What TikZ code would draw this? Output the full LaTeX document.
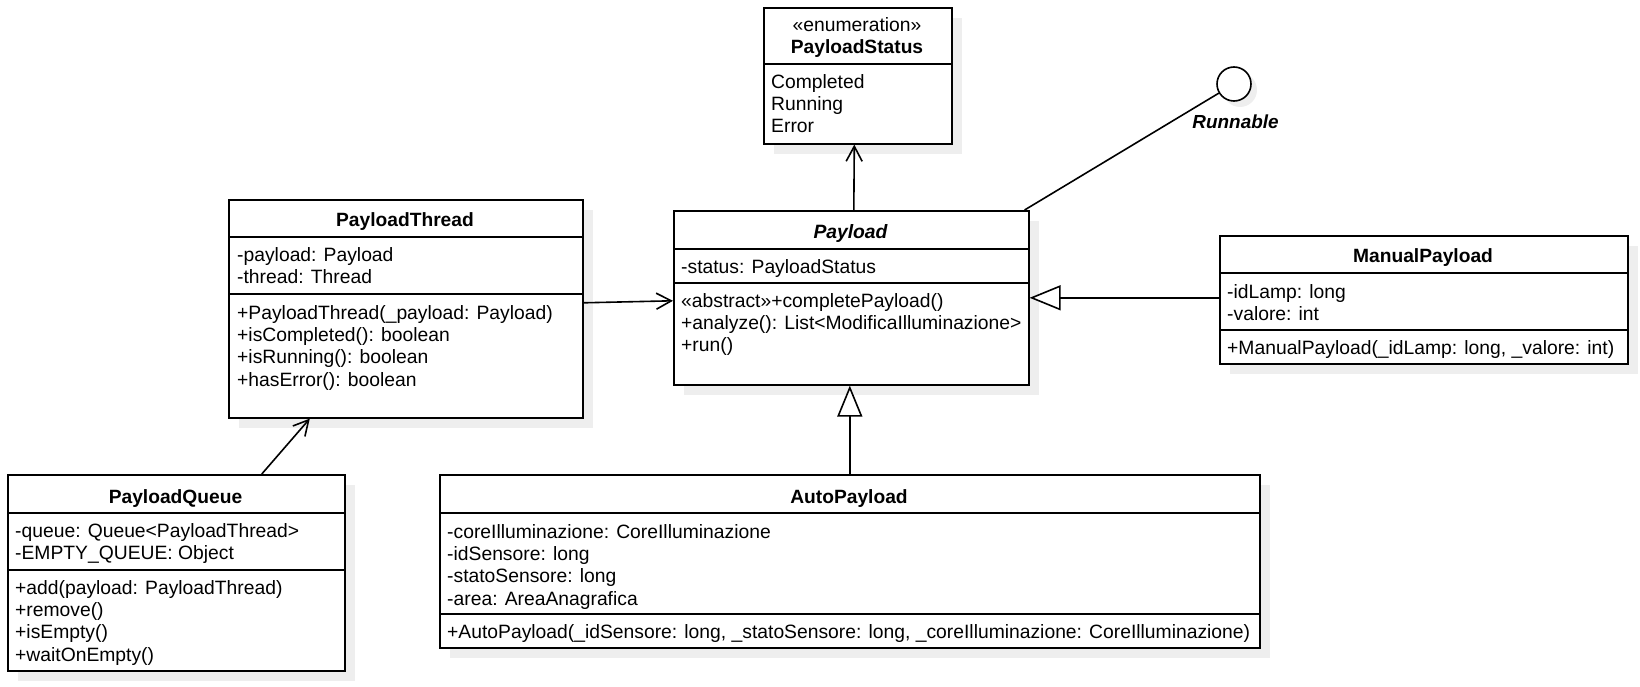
\documentclass[tikz,border=0pt]{standalone}
\usepackage{fontspec}
\setmainfont{Liberation Sans}
\usetikzlibrary{arrows.meta,shadows,calc}
\definecolor{shadowc}{HTML}{EEEEEE}
\newcommand{\bodyf}{\fontsize{19.3}{22.3}\selectfont}
\newcommand{\titlef}{\fontsize{19.2}{22}\selectfont\bfseries}
\newcommand{\ititlef}{\fontsize{19.3}{22}\selectfont\bfseries\itshape}
\begin{document}
\begin{tikzpicture}[x=1pt,y=-1pt,
  umlbox/.style={draw=black, line width=1.6pt, fill=white, anchor=north west, inner sep=0pt,
    drop shadow={shadow xshift=10pt, shadow yshift=-10pt, fill=shadowc, opacity=1}},
  divl/.style={line width=1.6pt},
  txt/.style={anchor=north west, inner sep=0pt, align=left, font=\bodyf},
  ttl/.style={anchor=base, inner sep=0pt, font=\titlef},
  ittl/.style={anchor=base, inner sep=0pt, font=\ititlef},
  conn/.style={line width=1.6pt},
  assoc/.style={conn, -{Straight Barb[length=15pt, width=16pt, line width=1.6pt]}},
  gen/.style={conn, -{Triangle[length=31pt, width=25pt, open, fill=white, line width=1.6pt]}}
]
\useasboundingbox (0,0) rectangle (1640,687);

% ---------- PayloadStatus ----------
\node[umlbox, minimum width=188, minimum height=136] (ps) at (763,7) {};
\draw[divl] ($(ps.north west)+(0,57)$) -- ($(ps.north east)+(0,57)$);
\node[anchor=base, inner sep=0pt, font=\bodyf] (ps-st) at (857,32) {«enumeration»};
\node[ttl] (ps-t) at (857,54) {PayloadStatus};
\node[txt] (ps-a) at (771,72.4) {\strut Completed\\Running\\Error};

% ---------- PayloadThread ----------
\node[umlbox, minimum width=354, minimum height=218] (pt) at (228,199) {};
\draw[divl] ($(pt.north west)+(0,38)$) -- ($(pt.north east)+(0,38)$);
\draw[divl] ($(pt.north west)+(0,95)$) -- ($(pt.north east)+(0,95)$);
\node[ttl] (pt-t) at (405,226) {PayloadThread};
\node[txt] (pt-a) at (237,245.4) {\strut -payload: Payload\\-thread: Thread};
\node[txt] (pt-m) at (237,303.4) {\strut +PayloadThread(\_payload: Payload)\\+isCompleted(): boolean\\+isRunning(): boolean\\+hasError(): boolean};

% ---------- Payload ----------
\node[umlbox, minimum width=355, minimum height=174] (p) at (673,210) {};
\draw[divl] ($(p.north west)+(0,39)$) -- ($(p.north east)+(0,39)$);
\draw[divl] ($(p.north west)+(0,73)$) -- ($(p.north east)+(0,73)$);
\node[ittl] (p-t) at (850.5,238) {Payload};
\node[txt] (p-a) at (681,257.4) {\strut -status: PayloadStatus};
\node[txt] (p-m) at (681,291.4) {\strut «abstract»+completePayload()\\+analyze(): List<ModificaIlluminazione>\\+run()};

% ---------- ManualPayload ----------
\node[umlbox, minimum width=408, minimum height=128] (mp) at (1219,235) {};
\draw[divl] ($(mp.north west)+(0,38)$) -- ($(mp.north east)+(0,38)$);
\draw[divl] ($(mp.north west)+(0,95)$) -- ($(mp.north east)+(0,95)$);
\node[ttl] (mp-t) at (1423,262) {ManualPayload};
\node[txt] (mp-a) at (1227,282.4) {\strut -idLamp: long\\-valore: int};
\node[txt] (mp-m) at (1227,338.4) {\strut +ManualPayload(\_idLamp: long, \_valore: int)};

% ---------- PayloadQueue ----------
\node[umlbox, minimum width=337, minimum height=196] (pq) at (7,474) {};
\draw[divl] ($(pq.north west)+(0,39)$) -- ($(pq.north east)+(0,39)$);
\draw[divl] ($(pq.north west)+(0,96)$) -- ($(pq.north east)+(0,96)$);
\node[ttl] (pq-t) at (175.5,503) {PayloadQueue};
\node[txt] (pq-a) at (15,521.4) {\strut -queue: Queue<PayloadThread>\\-EMPTY\_QUEUE: Object};
\node[txt] (pq-m) at (15,578.4) {\strut +add(payload: PayloadThread)\\+remove()\\+isEmpty()\\+waitOnEmpty()};

% ---------- AutoPayload ----------
\node[umlbox, minimum width=820, minimum height=173] (ap) at (439,474) {};
\draw[divl] ($(ap.north west)+(0,39)$) -- ($(ap.north east)+(0,39)$);
\draw[divl] ($(ap.north west)+(0,140)$) -- ($(ap.north east)+(0,140)$);
\node[ttl] (ap-t) at (849,503) {AutoPayload};
\node[txt] (ap-a) at (447,522.4) {\strut -coreIlluminazione: CoreIlluminazione\\-idSensore: long\\-statoSensore: long\\-area: AreaAnagrafica};
\node[txt] (ap-m) at (447,622.4) {\strut +AutoPayload(\_idSensore: long, \_statoSensore: long, \_coreIlluminazione: CoreIlluminazione)};

% ---------- Runnable interface ----------
\node[circle, draw=black, line width=1.6pt, fill=white, minimum size=34, inner sep=0pt,
  drop shadow={shadow xshift=6pt, shadow yshift=-6pt, fill=shadowc, opacity=1}] (rn) at (1234,84) {};
\node[anchor=base, inner sep=0pt, font=\fontsize{18.9}{22}\selectfont\bfseries\itshape] (rn-t) at (1235.5,128.5) {Runnable};

% ---------- connectors ----------
\draw[assoc] ([xshift=2.5pt]p.north) -- ([xshift=-3.5pt]ps.south);
\draw[assoc] ([yshift=6pt]pt.east) -- ([yshift=-3pt]p.west);
\draw[assoc] ([xshift=85.5pt]pq.north) -- ([xshift=-96pt]pt.south);
\draw[gen] (mp.west |- p.east) -- (p.east);
\draw[gen] (ap.north) -- (ap.north |- p.south);
\draw[conn] ([xshift=-5pt]p.north east) -- (rn);
\end{tikzpicture}
\end{document}
